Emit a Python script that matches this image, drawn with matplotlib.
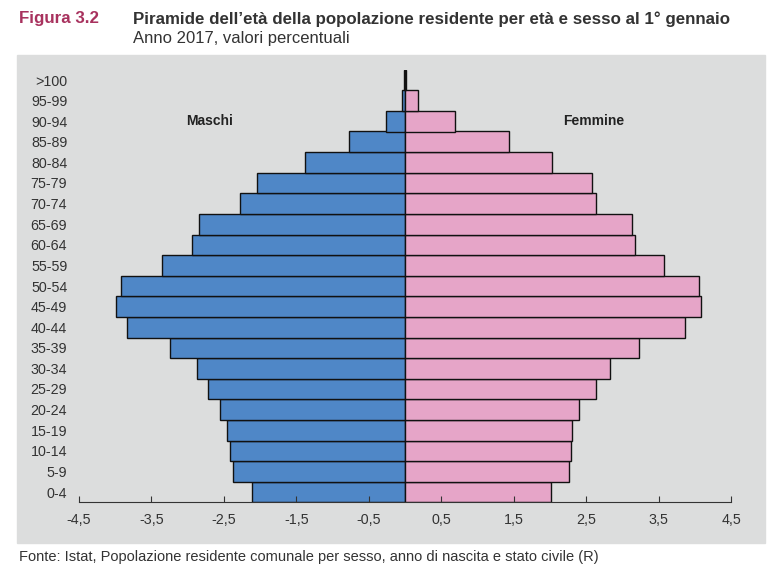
import numpy as np
import matplotlib.pyplot as plt
from matplotlib.patches import Rectangle

# fasce d'età (dal basso verso l'alto)
eta = ['0-4', '5-9', '10-14', '15-19', '20-24', '25-29', '30-34', '35-39',
       '40-44', '45-49', '50-54', '55-59', '60-64', '65-69', '70-74',
       '75-79', '80-84', '85-89', '90-94', '95-99', '>100']

maschi = [2.11, 2.38, 2.42, 2.46, 2.55, 2.72, 2.87, 3.24,
          3.84, 3.99, 3.92, 3.35, 2.94, 2.84, 2.28,
          2.04, 1.38, 0.77, 0.26, 0.045, 0.01]
femmine = [2.01, 2.26, 2.29, 2.30, 2.40, 2.64, 2.83, 3.23,
           3.87, 4.09, 4.06, 3.57, 3.17, 3.13, 2.63,
           2.58, 2.03, 1.44, 0.69, 0.175, 0.01]

xticks = [-4.5, -3.5, -2.5, -1.5, -0.5, 0.5, 1.5, 2.5, 3.5, 4.5]

plt.rcParams['font.family'] = ['Liberation Sans', 'DejaVu Sans']

W, H = 775, 564
fig = plt.figure(figsize=(W / 100, H / 100), dpi=100)

# pannello grigio
fig.patches.append(Rectangle((17 / W, 1 - 543 / H), (765 - 17) / W, (543 - 55) / H,
                             transform=fig.transFigure, color='#dcdddd', zorder=-10))

ax = fig.add_axes([79 / W, 1 - 502.3 / H, 652 / W, 432.6 / H])
ax.set_facecolor('none')

y = np.arange(len(eta))
ax.barh(y, -np.array(maschi), height=1, color='#4f87c7', edgecolor='#111111', linewidth=1)
ax.barh(y, femmine, height=1, color='#e6a5c8', edgecolor='#111111', linewidth=1)

ax.set_xlim(-4.5, 4.5)
ax.set_ylim(-0.5, len(eta) - 0.5)
ax.set_yticks(y)
ax.set_yticklabels(eta, fontsize=10.3, color='#333333')
ax.tick_params(axis='y', length=0, pad=8.5)
ax.set_xticks(xticks)
ax.set_xticklabels([str(v).replace('.', ',') for v in xticks], fontsize=10.3, color='#333333')
ax.tick_params(axis='x', direction='in', length=4, pad=8, color='#333333')

for s in ['top', 'right', 'left']:
    ax.spines[s].set_visible(False)
ax.spines['bottom'].set_color('#333333')

ax.text(-2.7, 18, 'Maschi', fontsize=10, fontweight='bold', color='#222222',
        ha='center', va='center')
ax.text(2.6, 18, 'Femmine', fontsize=10, fontweight='bold', color='#222222',
        ha='center', va='center')

fig.text(19 / W, 1 - 19 / H, 'Figura 3.2', fontsize=12.2, fontweight='bold',
         color='#a8325e', va='center')
fig.text(133 / W, 1 - 19 / H,
         'Piramide dell\u2019età della popolazione residente per età e sesso al 1° gennaio',
         fontsize=12.2, fontweight='bold', color='#333333', va='center')
fig.text(133 / W, 1 - 38 / H, 'Anno 2017, valori percentuali', fontsize=12,
         color='#333333', va='center')
fig.text(19 / W, 1 - 557 / H,
         'Fonte: Istat, Popolazione residente comunale per sesso, anno di nascita e stato civile (R)',
         fontsize=10.5, color='#333333', va='center')

fig.savefig('out.png', dpi=100)
